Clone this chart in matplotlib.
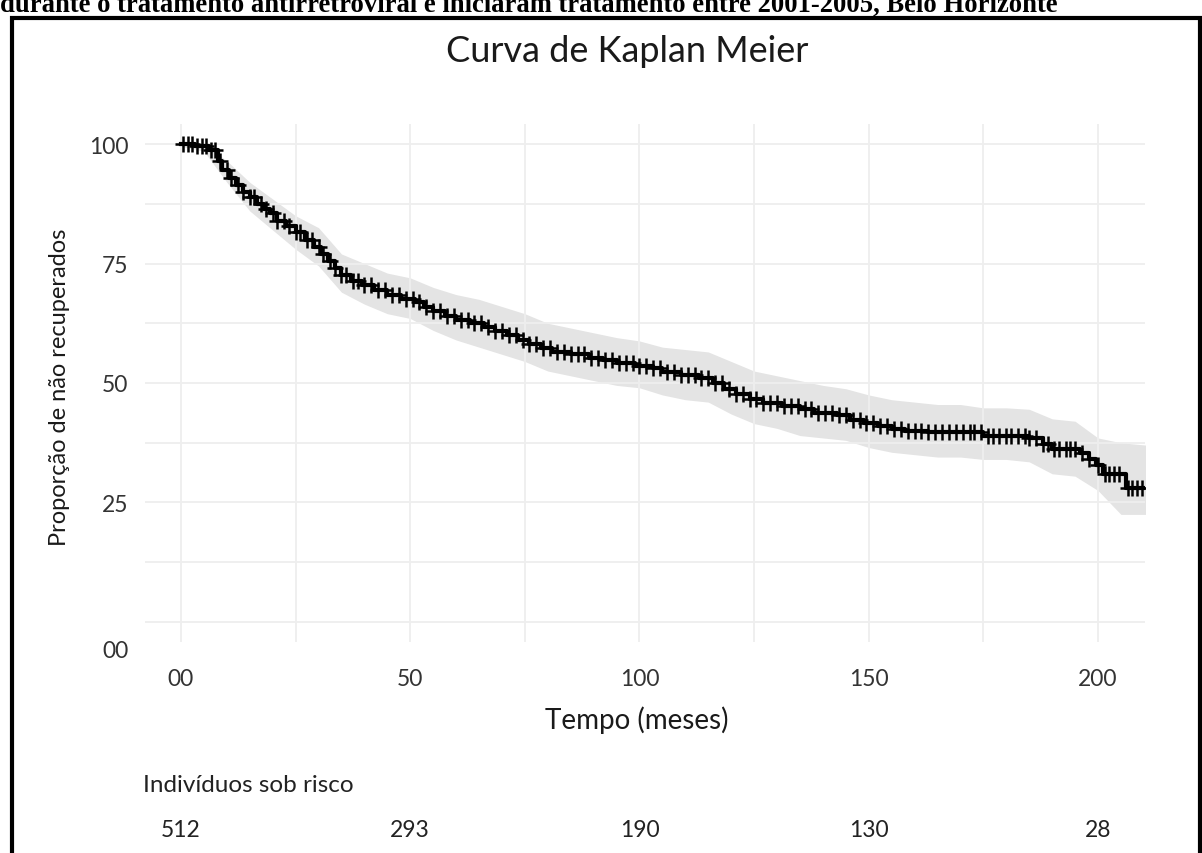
import numpy as np
import matplotlib.pyplot as plt
from matplotlib.patches import Rectangle
from matplotlib.transforms import ScaledTranslation, blended_transform_factory

# Kaplan-Meier step curve (time in months, % not recovered)
times = [0, 3, 6, 8, 9, 10.5, 12, 13.5, 15, 16.5, 18, 19.5, 21, 23, 25, 27, 29, 30.5,
         32, 33.5, 35, 37, 39.5, 42, 45, 48, 51, 53, 55, 57.5, 60, 63, 66, 68.5, 71,
         73.5, 76, 78.5, 81, 85, 89, 92, 95, 99, 103, 105, 109, 113, 116, 118.5, 121,
         124, 127, 131, 135, 138, 143, 146, 149, 152, 155, 158, 163, 175, 185, 188,
         190, 196, 198, 199.5, 201, 206, 210.5]
surv = [100, 99.5, 98.8, 96.5, 94.5, 93, 91.5, 90, 89, 87.5, 86.5, 85.5, 84, 82.8, 81.5,
        80, 78.5, 77, 75.5, 74, 72.5, 71.3, 70.5, 69.5, 68.5, 67.5, 67, 66, 65, 64, 63.2,
        62.5, 61.7, 60.8, 60, 59, 58.2, 57.3, 56.5, 56, 55.3, 54.8, 54.2, 53.6, 53.2, 52.2,
        51.6, 51, 50, 48.8, 47.6, 46.6, 45.8, 45.2, 44.5, 43.8, 43.2, 42.3, 41.6, 41, 40.4,
        40, 39.8, 39, 38.5, 37.3, 36.2, 35.4, 34.2, 32.8, 31, 28, 28]

# confidence band
ci_t = [0, 5, 10, 15, 20, 25, 30, 35, 40, 45, 50, 55, 60, 65, 70, 75, 80, 85, 90, 95, 100,
        105, 110, 115, 120, 125, 130, 135, 140, 145, 150, 155, 160, 165, 170, 175, 180, 185,
        190, 195, 200, 205, 210.5]
ci_up = [100, 100, 96.5, 92, 88.5, 85, 82.5, 77, 75, 73, 72, 70, 68.5, 67.5, 66, 64.5, 62.5,
         61.5, 60.5, 59.5, 58.8, 57.5, 57, 56.5, 54.5, 52.5, 51.5, 50.5, 49.5, 48.8, 47.5,
         46.5, 46, 45.5, 45.5, 44.8, 44.8, 44.5, 42.5, 42, 38.5, 37.5, 37]
ci_lo = [99.5, 98.5, 92, 86, 82, 78, 74.5, 69, 66.5, 64.5, 63.5, 61, 59, 57.5, 56, 54.5, 52.5,
         51.5, 50.5, 49.5, 49, 47.5, 46.5, 46, 43.5, 41.5, 40.5, 39, 38.5, 38, 36.5, 35.5, 35,
         34.5, 34.5, 34, 34, 33.5, 31, 30.5, 27.5, 22.5, 22.5]

# censored observations
censor_t = [0.5, 1.5, 2.5, 3.5, 4.5, 5.5, 6.5, 7.5, 8.5, 10, 11, 12.5, 13.5, 15, 16, 17.5,
            18.5, 20, 21, 22.5, 23.5, 25, 26, 27.5, 28.5, 30, 31, 32.5, 33.5, 35, 36, 37.5,
            38.5, 40, 41.5, 43, 44.5, 46, 47.5, 49, 50.5, 52, 53.5, 55, 56.5, 58, 59.5, 61,
            62.5, 64, 65.5, 67, 68.5, 70, 71.5, 73, 74.5, 76, 77.5, 79, 80.5, 82, 83.5, 85,
            86.5, 88, 89.5, 91, 92.5, 94, 95.5, 97, 98.5, 100, 101.5, 103, 104.5, 106, 107.5,
            109, 110.5, 112, 113.5, 115, 116.5, 118, 119.5, 121, 122.5, 124, 125.5, 127,
            128.5, 130, 131.5, 133, 134.5, 136, 137.5, 139, 140.5, 142, 143.5, 145, 146.5,
            148, 149.5, 151, 152.5, 154, 155.5, 157, 158.5, 160, 161.5, 163, 164.5, 166,
            167.5, 169, 170.5, 172, 173, 174.5, 176, 177, 178.5, 180, 181, 182.5, 184, 185,
            186.5, 188, 189, 190.5, 191.5, 193, 194, 195, 196.5, 198, 200, 201.5, 202.5,
            203.5, 204.5, 206.5, 207.5, 208.5, 209.5]

xticks = [0, 50, 100, 150, 200]
xtick_labels = ['00', '50', '100', '150', '200']
yticks = [0, 25, 50, 75, 100]
ytick_labels = ['00', '25', '50', '75', '100']
risk_n = [512, 293, 190, 130, 28]

plt.rcParams['font.family'] = ['Lato', 'DejaVu Sans']

fig = plt.figure(figsize=(12.02, 8.54), dpi=100)
ax = fig.add_axes([145 / 1202, 1 - 643 / 854, 1000 / 1202, 518 / 854])

ax.set_xlim(-7.85, 210.25)
ax.set_ylim(-4.2, 104.2)

# light grid, major and minor look the same
ax.set_xticks(np.arange(0, 201, 25), minor=True)
ax.set_yticks(np.arange(0, 101, 12.5), minor=True)
ax.grid(True, which='both', color='#eeeeee', lw=1.3, zorder=0)
for s in ax.spines.values():
    s.set_visible(False)
ax.tick_params(which='both', length=0)

ax.set_xticks(xticks)
ax.set_xticklabels(xtick_labels, fontsize=16.5, color='#333333')
ax.set_yticks(yticks)
ax.set_yticklabels(ytick_labels, fontsize=16.5, color='#333333')
ax.tick_params(axis='x', pad=19)
ax.tick_params(axis='y', pad=12)
# the "00" on the y axis sits lower than its gridline in the original
lab0 = ax.get_yticklabels()[0]
lab0.set_transform(lab0.get_transform() + ScaledTranslation(0, -27 / 100, fig.dpi_scale_trans))

ax.fill_between(ci_t, ci_lo, ci_up, color='#e4e4e4', lw=0, zorder=1)
ax.step(times, surv, where='post', color='black', lw=3, zorder=3)

idx = np.searchsorted(times, censor_t, side='right') - 1
cy = np.array(surv)[idx]
ax.plot(censor_t, cy, ls='none', marker='+', ms=11, mew=1.8, color='black', zorder=4)

# titles
fig.text(627 / 1202, 1 - 52 / 854, 'Curva de Kaplan Meier', ha='center', va='center',
         fontsize=26, color='#1a1a1a')
fig.text(637 / 1202, 1 - 720 / 854, 'Tempo (meses)', ha='center', va='center',
         fontsize=20, color='#1a1a1a')
fig.text(60 / 1202, 1 - 387 / 854, 'Proporção de não recuperados', ha='center', va='center',
         rotation=90, fontsize=17, color='#1a1a1a')

# risk table
fig.text(143 / 1202, 1 - 786 / 854, 'Indivíduos sob risco', ha='left', va='center',
         fontsize=17.5, color='#222222')
tr = blended_transform_factory(ax.transData, fig.transFigure)
for x, n in zip(xticks, risk_n):
    ax.text(x, 1 - 831 / 854, str(n), transform=tr, ha='center', va='center',
            fontsize=16.5, color='#222222')

# cut-off caption from the page above and the frame around the figure
fig.text(0, 1 - 12 / 854,
         'durante o tratamento antirretroviral e iniciaram tratamento entre 2001-2005, Belo Horizonte',
         ha='left', va='baseline', fontsize=19.2, fontweight='bold',
         family='Liberation Serif', color='black')
fig.patches.append(Rectangle((12 / 1202, -0.05), (1200 - 12) / 1202, 1.05 - 19 / 854,
                             transform=fig.transFigure, fill=False, ec='black', lw=3))

fig.savefig('out.png', dpi=100)
